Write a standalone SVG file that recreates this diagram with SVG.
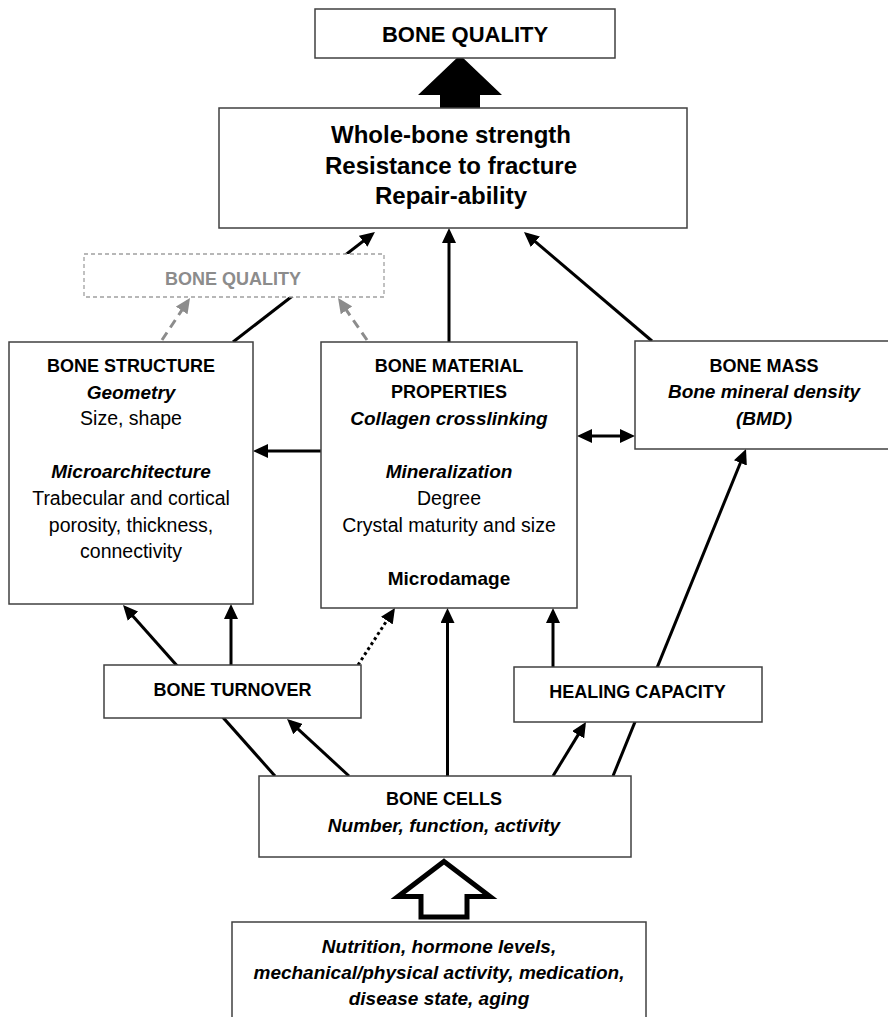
<svg xmlns="http://www.w3.org/2000/svg" width="888" height="1017" viewBox="0 0 888 1017">
<style>
.box{fill:#fff;stroke:#404040;stroke-width:1.5}
.dbox{fill:#fff;stroke:#a0a0a0;stroke-width:1.3;stroke-dasharray:4 3}
.t{font-family:"Liberation Sans",Arial,sans-serif;text-anchor:middle;fill:#000}
.cap{font-weight:bold;font-size:18px}
.b{font-weight:bold;font-size:19px}
.bi{font-weight:bold;font-style:italic;font-size:19px}
.r{font-size:19.5px}
.big{font-weight:bold;font-size:24px}
.ln{fill:none;stroke:#000;stroke-width:3}
.gln{fill:none;stroke:#8c8c8c;stroke-width:3;stroke-dasharray:9 6}
.dot{fill:none;stroke:#000;stroke-width:3;stroke-dasharray:3 3}
</style>
<defs>
<marker id="ah" viewBox="0 0 15 14" refX="11" refY="7" markerWidth="15" markerHeight="14" markerUnits="userSpaceOnUse" orient="auto-start-reverse">
<path d="M0,0 L15,7 L0,14 Z" fill="#000"/>
</marker>
<marker id="gah" viewBox="0 0 15 14" refX="11" refY="7" markerWidth="15" markerHeight="14" markerUnits="userSpaceOnUse" orient="auto">
<path d="M0,0 L15,7 L0,14 Z" fill="#8c8c8c"/>
</marker>
</defs>

<g id="connectors">
<polygon points="460,55 502,95 480,95 480,108 440,108 440,95 418,95" fill="#000"/>
<line class="ln" x1="233" y1="342" x2="371.8" y2="234.5" marker-end="url(#ah)"/>
<line class="ln" x1="449" y1="342" x2="449" y2="232" marker-end="url(#ah)"/>
<line class="ln" x1="652" y1="341" x2="527" y2="234.6" marker-end="url(#ah)"/>
<line class="gln" x1="162" y1="340" x2="187.8" y2="301.3" marker-end="url(#gah)"/>
<line class="gln" x1="367" y1="340" x2="340.3" y2="301.3" marker-end="url(#gah)"/>
<line class="ln" x1="321" y1="451" x2="257" y2="451" marker-end="url(#ah)"/>
<line class="ln" x1="581" y1="436" x2="631" y2="436" marker-start="url(#ah)" marker-end="url(#ah)"/>
<line class="ln" x1="275" y1="776" x2="125.7" y2="608" marker-end="url(#ah)"/>
<line class="ln" x1="231" y1="665" x2="231" y2="608" marker-end="url(#ah)"/>
<line class="ln" x1="349" y1="776" x2="290" y2="721.7" marker-end="url(#ah)"/>
<line class="dot" x1="358" y1="665" x2="392.8" y2="611.4" marker-end="url(#ah)"/>
<line class="ln" x1="447.5" y1="776" x2="447.5" y2="612" marker-end="url(#ah)"/>
<line class="ln" x1="553" y1="776" x2="583.9" y2="725.4" marker-end="url(#ah)"/>
<line class="ln" x1="553" y1="667" x2="553" y2="612" marker-end="url(#ah)"/>
<line class="ln" x1="613" y1="776" x2="744.5" y2="452.7" marker-end="url(#ah)"/>
<polygon points="444,861.5 490,896.5 467,896.5 467,917 421,917 421,896.5 398,896.5" fill="#fff" stroke="#000" stroke-width="5" stroke-linejoin="miter"/>
</g>

<g id="bone-quality-top">
<rect class="box" x="315" y="9" width="300" height="49"/>
<text class="t" x="465" y="42" font-weight="bold" font-size="22">BONE QUALITY</text>
</g>

<g id="whole-bone">
<rect class="box" x="219" y="108" width="468" height="120"/>
<text class="t big" x="451" y="143">Whole-bone strength</text>
<text class="t big" x="451" y="174">Resistance to fracture</text>
<text class="t big" x="451" y="204">Repair-ability</text>
</g>

<g id="bone-quality-dashed">
<rect class="dbox" x="84" y="254" width="300" height="43"/>
<text class="t cap" x="233" y="285" style="fill:#8c8c8c">BONE QUALITY</text>
</g>

<g id="bone-structure">
<rect class="box" x="9" y="342" width="244" height="262"/>
<text class="t cap" x="131" y="372">BONE STRUCTURE</text>
<text class="t bi" x="131" y="398.5">Geometry</text>
<text class="t r" x="131" y="425">Size, shape</text>
<text class="t bi" x="131" y="478">Microarchitecture</text>
<text class="t r" x="131" y="505">Trabecular and cortical</text>
<text class="t r" x="131" y="532">porosity, thickness,</text>
<text class="t r" x="131" y="558">connectivity</text>
</g>

<g id="bone-material">
<rect class="box" x="321" y="342" width="256" height="266"/>
<text class="t cap" x="449" y="372">BONE MATERIAL</text>
<text class="t cap" x="449" y="398">PROPERTIES</text>
<text class="t bi" x="449" y="425">Collagen crosslinking</text>
<text class="t bi" x="449" y="478">Mineralization</text>
<text class="t r" x="449" y="505">Degree</text>
<text class="t r" x="449" y="532">Crystal maturity and size</text>
<text class="t b" x="449" y="585">Microdamage</text>
</g>

<g id="bone-mass">
<rect class="box" x="635" y="341" width="260" height="108"/>
<text class="t cap" x="764" y="372">BONE MASS</text>
<text class="t bi" x="764" y="398">Bone mineral density</text>
<text class="t bi" x="764" y="425">(BMD)</text>
</g>

<g id="bone-turnover">
<rect class="box" x="104" y="665" width="257" height="53"/>
<text class="t cap" x="232.5" y="696">BONE TURNOVER</text>
</g>

<g id="healing-capacity">
<rect class="box" x="514" y="667" width="248" height="55"/>
<text class="t cap" x="637.5" y="697.5">HEALING CAPACITY</text>
</g>

<g id="bone-cells">
<rect class="box" x="259" y="776" width="372" height="81"/>
<text class="t cap" x="444" y="805">BONE CELLS</text>
<text class="t bi" x="444" y="832">Number, function, activity</text>
</g>

<g id="factors">
<rect class="box" x="232" y="922" width="414" height="120"/>
<text class="t bi" x="439" y="953">Nutrition, hormone levels,</text>
<text class="t bi" x="439" y="979">mechanical/physical activity, medication,</text>
<text class="t bi" x="439" y="1005">disease state, aging</text>
</g>
</svg>
